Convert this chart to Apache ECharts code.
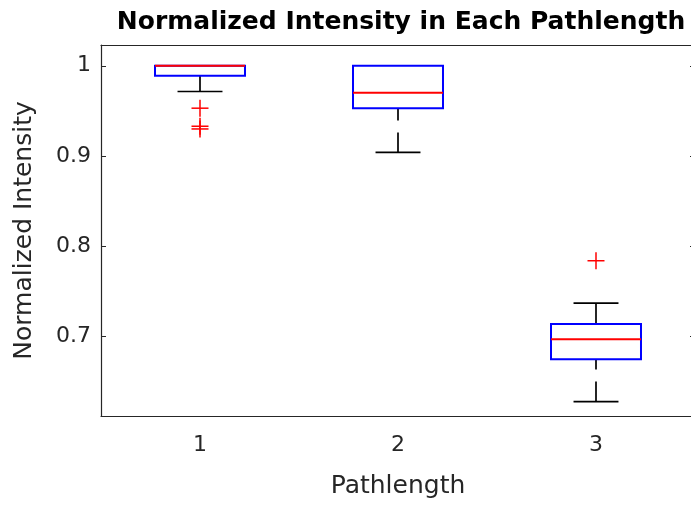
<!DOCTYPE html>
<html>
<head>
<meta charset="utf-8">
<script src="https://cdn.jsdelivr.net/npm/echarts@6/dist/echarts.min.js"></script>
<style>
html,body{margin:0;padding:0;background:#fff;}
#chart{width:691px;height:505px;}
</style>
</head>
<body>
<div id="chart"></div>
<script>
// ---- data ----
const categories = ['1', '2', '3'];
const whiskerLow = [0.9715, 0.904, 0.628];
const quartile1 = [0.989, 0.953, 0.675];
const medians = [1.0, 0.970, 0.697];
const quartile3 = [1.0, 1.0, 0.714];
const whiskerHigh = [1.0, 1.0, 0.737];
const outlierCategory = [0, 0, 0, 2];
const outlierValue = [0.953, 0.933, 0.930, 0.784];
const yTickValues = [0.7, 0.8, 0.9, 1];

const FONT = 'DejaVu Sans';
const AXIS_COLOR = '#262626';

const boxData = categories.map((c, i) => [i, whiskerLow[i], quartile1[i], medians[i], quartile3[i], whiskerHigh[i]]);
const outlierData = outlierCategory.map((c, i) => [c, outlierValue[i]]);

function renderBox(params, api) {
  const i = api.value(0);
  const pLow = api.coord([i, api.value(1)]);
  const pQ1 = api.coord([i, api.value(2)]);
  const pMed = api.coord([i, api.value(3)]);
  const pQ3 = api.coord([i, api.value(4)]);
  const pHigh = api.coord([i, api.value(5)]);
  const band = api.size([1, 0])[0];
  const bw = band * 0.4545;
  const cw = band * 0.227;
  const x = pMed[0];
  const whiskerStyle = { stroke: '#000', lineWidth: 1.7, lineDash: [20, 12], fill: null };
  const capStyle = { stroke: '#000', lineWidth: 1.7, fill: null };
  const children = [];
  if (pHigh[1] < pQ3[1] - 0.5) {
    children.push({ type: 'line', shape: { x1: x, y1: pHigh[1], x2: x, y2: pQ3[1] }, style: whiskerStyle });
    children.push({ type: 'line', shape: { x1: x - cw / 2, y1: pHigh[1], x2: x + cw / 2, y2: pHigh[1] }, style: capStyle });
  }
  if (pLow[1] > pQ1[1] + 0.5) {
    children.push({ type: 'line', shape: { x1: x, y1: pLow[1], x2: x, y2: pQ1[1] }, style: whiskerStyle });
    children.push({ type: 'line', shape: { x1: x - cw / 2, y1: pLow[1], x2: x + cw / 2, y2: pLow[1] }, style: capStyle });
  }
  children.push({ type: 'rect', shape: { x: x - bw / 2, y: pQ3[1], width: bw, height: pQ1[1] - pQ3[1] },
    style: { stroke: '#0000ff', lineWidth: 2, fill: null } });
  children.push({ type: 'line', shape: { x1: x - bw / 2, y1: pMed[1], x2: x + bw / 2, y2: pMed[1] },
    style: { stroke: '#ff0000', lineWidth: 2, fill: null } });
  return { type: 'group', children: children };
}

function renderOutlier(params, api) {
  const p = api.coord([api.value(0), api.value(1)]);
  const h = 8.5;
  const st = { stroke: '#ff0000', lineWidth: 1.5, fill: null };
  return { type: 'group', children: [
    { type: 'line', shape: { x1: p[0] - h, y1: p[1], x2: p[0] + h, y2: p[1] }, style: st },
    { type: 'line', shape: { x1: p[0], y1: p[1] - h, x2: p[0], y2: p[1] + h }, style: st }
  ] };
}

const chart = echarts.init(document.getElementById('chart'), null, { renderer: 'canvas' });
const yMin = 0.612, yMax = 1.023;
chart.setOption({
  animation: false,
  backgroundColor: '#fff',
  title: {
    text: 'Normalized Intensity in Each Pathlength',
    left: 396, top: 5, textAlign: 'center',
    textStyle: { fontFamily: FONT, fontSize: 25, fontWeight: 'bold', color: '#000' }
  },
  grid: { left: 101, width: 594, top: 45, height: 371, containLabel: false, outerBoundsMode: 'none' },
  xAxis: [{
    type: 'category', data: categories, boundaryGap: true, position: 'bottom',
    name: 'Pathlength', nameLocation: 'middle', nameGap: 58,
    nameTextStyle: { fontFamily: FONT, fontSize: 25, color: AXIS_COLOR },
    axisLine: { lineStyle: { color: AXIS_COLOR, width: 1.2 } },
    axisTick: { inside: true, alignWithLabel: true, length: 5, lineStyle: { color: AXIS_COLOR } },
    axisLabel: { fontFamily: FONT, fontSize: 22, color: AXIS_COLOR, margin: 18 },
    splitLine: { show: false }
  }, {
    type: 'category', data: categories, boundaryGap: true, position: 'top',
    axisLine: { lineStyle: { color: AXIS_COLOR, width: 1.2 } },
    axisTick: { inside: true, alignWithLabel: true, length: 5, lineStyle: { color: AXIS_COLOR } },
    axisLabel: { show: false }, splitLine: { show: false }
  }],
  yAxis: [{
    type: 'value', min: yMin, max: yMax, position: 'left',
    name: 'Normalized Intensity', nameLocation: 'middle', nameGap: 64,
    nameTextStyle: { fontFamily: FONT, fontSize: 25, color: AXIS_COLOR },
    axisLine: { show: true, lineStyle: { color: AXIS_COLOR, width: 1.2 } },
    axisTick: { show: true, inside: true, length: 5, customValues: yTickValues, lineStyle: { color: AXIS_COLOR } },
    axisLabel: { fontFamily: FONT, fontSize: 22, color: AXIS_COLOR, margin: 10, customValues: yTickValues,
      formatter: v => String(Math.round(v * 10) / 10) },
    splitLine: { show: false }
  }, {
    type: 'value', min: yMin, max: yMax, position: 'right',
    axisLine: { show: true, lineStyle: { color: AXIS_COLOR, width: 1.2 } },
    axisTick: { show: true, inside: true, length: 5, customValues: yTickValues, lineStyle: { color: AXIS_COLOR } },
    axisLabel: { show: false }, splitLine: { show: false }
  }],
  series: [{
    type: 'custom', name: 'box', xAxisIndex: 0, yAxisIndex: 0,
    renderItem: renderBox, data: boxData,
    encode: { x: 0, y: [1, 2, 3, 4, 5] }, z: 2
  }, {
    type: 'custom', name: 'outliers', xAxisIndex: 0, yAxisIndex: 0,
    renderItem: renderOutlier, data: outlierData,
    encode: { x: 0, y: 1 }, z: 3
  }]
});
</script>
</body>
</html>
